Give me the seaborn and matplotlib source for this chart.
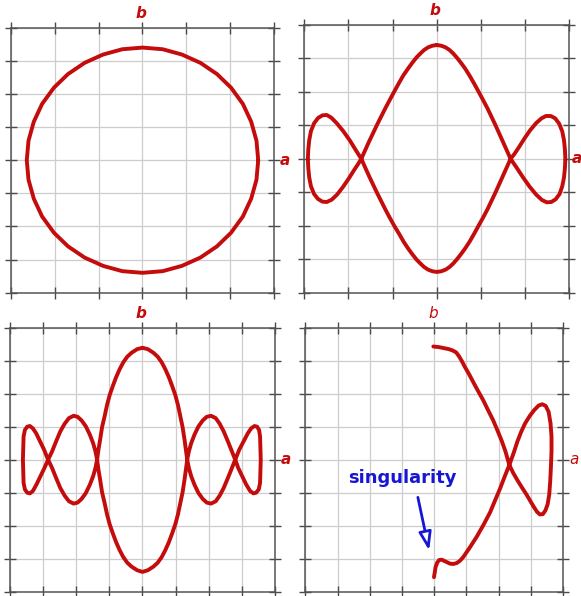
import matplotlib
matplotlib.use("Agg")
import matplotlib.pyplot as plt
import seaborn as sns

sns.set_theme(style="whitegrid")
plt.rcParams["font.family"] = ["DejaVu Sans"]

# 曲线数据 (a 为横轴, b 为纵轴), 点
circle_a = [2.64, 2.60, 2.48, 2.29, 2.02, 1.70, 1.32, 0.90, 0.46, 0.00,
            -0.46, -0.90, -1.32, -1.70, -2.02, -2.29, -2.48, -2.60, -2.64,
            -2.60, -2.48, -2.29, -2.02, -1.70, -1.32, -0.90, -0.46, 0.00,
            0.46, 0.90, 1.32, 1.70, 2.02, 2.29, 2.48, 2.60, 2.64]
circle_b = [0.00, 0.59, 1.16, 1.70, 2.19, 2.60, 2.94, 3.19, 3.35, 3.40,
            3.35, 3.19, 2.94, 2.60, 2.19, 1.70, 1.16, 0.59, 0.00,
            -0.59, -1.16, -1.70, -2.19, -2.60, -2.94, -3.19, -3.35, -3.40,
            -3.35, -3.19, -2.94, -2.60, -2.19, -1.70, -1.16, -0.59, 0.00]

# 右上图: 右半 (从顶点出发) + 左半
loop1_right_a = [0.00, 0.10, 0.20, 0.29, 0.37, 0.45, 0.54, 0.64, 0.74, 0.84,
                 0.94, 1.05, 1.15, 1.33, 1.50, 1.67,
                 1.80, 1.95, 2.10, 2.25, 2.38, 2.49, 2.59, 2.69, 2.78, 2.84,
                 2.88, 2.90, 2.91, 2.90, 2.88, 2.84, 2.77, 2.68, 2.58, 2.47,
                 2.37, 2.25, 2.11, 1.98, 1.86, 1.76,
                 1.67, 1.50, 1.33, 1.15, 1.05, 0.94, 0.84, 0.74, 0.64, 0.54,
                 0.45, 0.37, 0.29, 0.20, 0.10, 0.00]
loop1_right_b = [3.40, 3.38, 3.33, 3.25, 3.15, 3.03, 2.88, 2.70, 2.49, 2.26,
                 2.02, 1.75, 1.50, 1.00, 0.50, 0.00,
                 -0.25, -0.55, -0.83, -1.07, -1.23, -1.30, -1.29, -1.21, -1.05, -0.82,
                 -0.55, -0.28, 0.00, 0.28, 0.55, 0.82, 1.05, 1.21, 1.28, 1.28,
                 1.21, 1.07, 0.85, 0.60, 0.35, 0.15,
                 0.00, -0.50, -1.00, -1.50, -1.75, -2.01, -2.25, -2.48, -2.68, -2.86,
                 -3.01, -3.13, -3.23, -3.31, -3.36, -3.38]
loop1_left_a = [-0.10, -0.20, -0.29, -0.37, -0.46, -0.55, -0.65, -0.75, -0.85,
                -0.96, -1.07, -1.17, -1.36, -1.54, -1.71,
                -1.83, -1.97, -2.12, -2.27, -2.39, -2.49, -2.59, -2.69, -2.78, -2.85,
                -2.89, -2.91, -2.92, -2.91, -2.89, -2.85, -2.78, -2.69, -2.59, -2.49,
                -2.38, -2.26, -2.13, -2.00, -1.88, -1.78,
                -1.71, -1.54, -1.36, -1.17, -1.07, -0.96, -0.86, -0.76, -0.65,
                -0.55, -0.46, -0.37, -0.29, -0.20, -0.10, 0.00]
loop1_left_b = [-3.36, -3.31, -3.23, -3.13, -3.01, -2.86, -2.68, -2.48, -2.25,
                -2.01, -1.75, -1.50, -1.00, -0.50, 0.00,
                0.25, 0.55, 0.83, 1.07, 1.23, 1.31, 1.30, 1.22, 1.06, 0.83,
                0.55, 0.28, 0.00, -0.28, -0.55, -0.82, -1.05, -1.20, -1.28, -1.29,
                -1.22, -1.07, -0.85, -0.60, -0.35, -0.15,
                0.00, 0.50, 1.00, 1.50, 1.75, 2.02, 2.26, 2.49, 2.70,
                2.88, 3.03, 3.15, 3.25, 3.33, 3.38, 3.40]

# 左下图
loop2_right_a = [0.00, 0.16, 0.33, 0.46, 0.58, 0.69, 0.80, 0.90, 0.99, 1.07,
                 1.14, 1.21, 1.27, 1.31, 1.35, 1.40, 1.47, 1.57, 1.69, 1.82,
                 1.94, 2.07, 2.21, 2.33, 2.45, 2.58, 2.70, 2.80, 2.92, 3.05,
                 3.18, 3.28, 3.38, 3.46, 3.52, 3.55, 3.56, 3.57, 3.56, 3.55,
                 3.51, 3.43, 3.35, 3.25, 3.13, 3.01, 2.89, 2.80, 2.70, 2.58,
                 2.45, 2.33, 2.21, 2.07, 1.94, 1.82, 1.69, 1.57, 1.47, 1.40,
                 1.35, 1.31, 1.27, 1.21, 1.14, 1.07, 0.99, 0.90, 0.80, 0.69,
                 0.58, 0.46, 0.33, 0.16, 0.00]
loop2_right_b = [3.39, 3.35, 3.24, 3.12, 2.95, 2.74, 2.49, 2.22, 1.96, 1.66,
                 1.33, 0.99, 0.60, 0.30, 0.00, -0.25, -0.50, -0.76, -1.01, -1.19,
                 -1.30, -1.33, -1.26, -1.09, -0.86, -0.55, -0.25, 0.00, 0.30, 0.55,
                 0.80, 0.95, 1.02, 1.00, 0.90, 0.70, 0.40, 0.00, -0.40, -0.70,
                 -0.90, -1.00, -1.02, -0.95, -0.75, -0.50, -0.25, 0.00, 0.25, 0.55,
                 0.86, 1.09, 1.26, 1.33, 1.30, 1.19, 1.01, 0.76, 0.50, 0.25,
                 0.00, -0.30, -0.60, -0.99, -1.33, -1.66, -1.96, -2.22, -2.49, -2.74,
                 -2.95, -3.12, -3.24, -3.35, -3.40]
loop2_left_a = [-0.16, -0.33, -0.46, -0.58, -0.69, -0.80, -0.90, -0.99, -1.07,
                -1.14, -1.22, -1.28, -1.33, -1.37, -1.42, -1.49, -1.59, -1.71,
                -1.84, -1.96, -2.08, -2.22, -2.35, -2.48, -2.61, -2.73, -2.85,
                -2.96, -3.08, -3.20, -3.31, -3.40, -3.48, -3.55, -3.59, -3.60,
                -3.61, -3.60, -3.59, -3.55, -3.48, -3.40, -3.31, -3.21, -3.09,
                -2.97, -2.85, -2.73, -2.61, -2.48, -2.35, -2.22, -2.08, -1.96,
                -1.84, -1.71, -1.59, -1.49, -1.42, -1.37, -1.33, -1.28, -1.22,
                -1.14, -1.07, -0.99, -0.90, -0.80, -0.69, -0.58, -0.46, -0.33,
                -0.16, 0.00]
loop2_left_b = [-3.35, -3.24, -3.12, -2.95, -2.74, -2.49, -2.22, -1.96, -1.66,
                -1.33, -0.99, -0.60, -0.30, 0.00, 0.25, 0.50, 0.76, 1.01,
                1.19, 1.30, 1.33, 1.26, 1.09, 0.86, 0.55, 0.25, 0.00,
                -0.25, -0.50, -0.75, -0.95, -1.02, -1.00, -0.90, -0.70, -0.40,
                0.00, 0.40, 0.70, 0.90, 1.00, 1.02, 0.95, 0.80, 0.55,
                0.30, 0.00, -0.25, -0.55, -0.86, -1.09, -1.26, -1.33, -1.30,
                -1.19, -1.01, -0.76, -0.50, -0.25, 0.00, 0.30, 0.60, 0.99,
                1.33, 1.66, 1.96, 2.22, 2.49, 2.74, 2.95, 3.12, 3.24,
                3.35, 3.39]

# 右下图 (含奇点)
sing_a = [-0.03, 0.15, 0.30, 0.45, 0.57, 0.68, 0.77, 0.86, 0.95, 1.08,
          1.21, 1.36, 1.52, 1.67, 1.83, 1.96, 2.09, 2.21, 2.33, 2.45,
          2.58, 2.72, 2.86, 2.98, 3.09, 3.19, 3.28, 3.37, 3.45, 3.52,
          3.57, 3.60, 3.62, 3.64, 3.64, 3.61, 3.55, 3.46, 3.35, 3.24,
          3.10, 2.96, 2.82, 2.70, 2.58, 2.47, 2.33, 2.19, 2.04, 1.88,
          1.73, 1.53, 1.32, 1.11, 0.90, 0.80, 0.70, 0.59, 0.49, 0.36,
          0.23, 0.15, 0.09, 0.04, 0.02, -0.01]
sing_b = [3.43, 3.41, 3.38, 3.35, 3.31, 3.25, 3.13, 2.98, 2.81, 2.59,
          2.35, 2.08, 1.80, 1.50, 1.19, 0.89, 0.58, 0.25, -0.16, -0.40,
          -0.62, -0.84, -1.05, -1.25, -1.43, -1.58, -1.66, -1.65, -1.54, -1.35,
          -1.05, -0.65, -0.25, 0.25, 0.70, 1.10, 1.45, 1.63, 1.68, 1.64,
          1.50, 1.32, 1.10, 0.85, 0.55, 0.22, -0.16, -0.50, -0.88, -1.25,
          -1.60, -1.97, -2.33, -2.65, -2.95, -3.06, -3.13, -3.16, -3.15, -3.09,
          -3.03, -3.04, -3.12, -3.25, -3.38, -3.56]

red = "#c40c0c"
blue = "#1616d4"

fig = plt.figure(figsize=(5.81, 5.96), dpi=100)
rects = [[0.0189, 0.5089, 0.4527, 0.4446],
         [0.5238, 0.5089, 0.4561, 0.4492],
         [0.0172, 0.0072, 0.4561, 0.4430],
         [0.5258, 0.0072, 0.4434, 0.4430]]
curves = [(circle_a, circle_b, 3),
          (loop1_right_a + loop1_left_a, loop1_right_b + loop1_left_b, 3),
          (loop2_right_a + loop2_left_a, loop2_right_b + loop2_left_b, 4),
          (sing_a, sing_b, 4)]
a_offset = [8, 5.5, 8, 8]

axes = []
for i, (rect, (xa, yb, half)) in enumerate(zip(rects, curves)):
    ax = fig.add_axes(rect)
    sns.lineplot(x=xa, y=yb, sort=False, estimator=None, ax=ax, color=red,
                 lw=2.8, solid_capstyle="round", solid_joinstyle="round")
    ax.set_xlim(-half, half)
    ax.set_ylim(-4, 4)
    ax.set_xticks(range(-half, half + 1))
    ax.set_yticks(range(-4, 5))
    ax.grid(True, color="#cdcdcd", lw=0.9)
    ax.tick_params(direction="inout", length=8, width=1, colors="#4a4a4a",
                   top=True, right=True, bottom=True, left=True,
                   labelleft=False, labelbottom=False)
    for sp in ax.spines.values():
        sp.set_color("#555555")
        sp.set_linewidth(1.1)
    weight = "normal" if i == 3 else "bold"
    ax.annotate("b", xy=(0.5, 1), xycoords="axes fraction", xytext=(-1, 10.5),
                textcoords="offset points", ha="center", va="center",
                color=red, fontsize=11, style="italic", weight=weight)
    ax.annotate("a", xy=(1, 0.5), xycoords="axes fraction", xytext=(a_offset[i], 0),
                textcoords="offset points", ha="center", va="center",
                color=red, fontsize=11, style="italic", weight=weight)
    axes.append(ax)

ax4 = axes[3]
ax4.text(-1.0, -0.54, "singularity", color=blue, fontsize=13, weight="bold",
         ha="center", va="center")
ax4.annotate("", xy=(-0.16, -2.75), xytext=(-0.51, -1.14),
             arrowprops=dict(arrowstyle="-|>,head_length=1.1,head_width=0.38",
                             ec=blue, fc="white", lw=2, mutation_scale=10,
                             shrinkA=0, shrinkB=0))

plt.savefig("out.png", dpi=100)
